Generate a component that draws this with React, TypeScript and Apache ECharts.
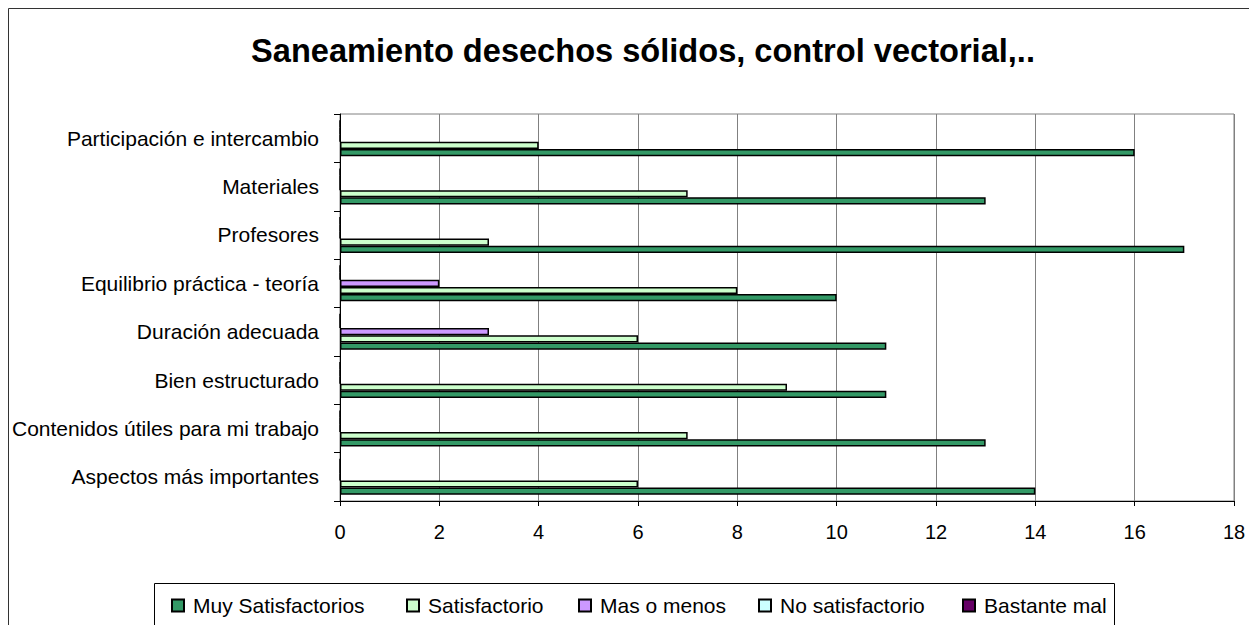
import React, { useEffect, useRef } from "react";
import * as echarts from "echarts";

const titleText = "Saneamiento desechos sólidos, control vectorial,..";
const categories = [
  "Aspectos más importantes",
  "Contenidos útiles para mi trabajo",
  "Bien estructurado",
  "Duración adecuada",
  "Equilibrio práctica - teoría",
  "Profesores",
  "Materiales",
  "Participación e intercambio",
];
const seriesNames = ["Muy Satisfactorios", "Satisfactorio", "Mas o menos", "No satisfactorio", "Bastante mal"];
const muySatisfactorios = [14, 13, 11, 11, 10, 17, 13, 16];
const satisfactorio = [6, 7, 9, 6, 8, 3, 7, 4];
const masOMenos = [0, 0, 0, 3, 2, 0, 0, 0];
const noSatisfactorio = [0, 0, 0, 0, 0, 0, 0, 0];
const bastanteMal = [0, 0, 0, 0, 0, 0, 0, 0];
const seriesColors = ["#339966", "#CCFFCC", "#CC99FF", "#CCFFFF", "#660066"];
const xTicks = { min: 0, max: 18, interval: 2 };

const FONT = '"Liberation Sans", Arial, sans-serif';

export default function App() {
  const ref = useRef<HTMLDivElement>(null);
  useEffect(() => {
    document.documentElement.style.overflow = "hidden";
    document.body.style.margin = "0";
    const chart = echarts.init(ref.current!, undefined, { renderer: "svg" });
    const values = [muySatisfactorios, satisfactorio, masOMenos, noSatisfactorio, bastanteMal];
    const legendLefts = [171, 406, 578, 758, 962];
    // horizontal bars: first series is drawn at the top of each band, so reverse
    const order = [4, 3, 2, 1, 0];
    const option: any = {
      animation: false,
      backgroundColor: "#fff",
      title: {
        text: titleText,
        left: 638,
        top: 29,
        textAlign: "center",
        textStyle: { fontFamily: FONT, fontSize: 32.6, fontWeight: "bold", color: "#000" },
      },
      legend: seriesNames.map((n, i) => ({
        data: [n],
        left: legendLefts[i],
        top: 595,
        padding: 0,
        itemWidth: 12,
        itemHeight: 12,
        icon: "rect",
        textStyle: { fontFamily: FONT, fontSize: 21, color: "#000", padding: [0, 0, 0, 4] },
      })),
      graphic: [
        {
          type: "rect",
          shape: { x: 154.5, y: 583.5, width: 960, height: 100 },
          style: { fill: "none", stroke: "#000", lineWidth: 1 },
        },
        {
          type: "rect",
          shape: { x: 8.5, y: 8.5, width: 1300, height: 700 },
          style: { fill: "none", stroke: "#333", lineWidth: 1 },
        },
      ],
      grid: {
        left: 340,
        right: 15,
        top: 114,
        height: 387,
        show: true,
        borderColor: "#808080",
        borderWidth: 1,
        containLabel: false,
      },
      xAxis: {
        type: "value",
        min: xTicks.min,
        max: xTicks.max,
        interval: xTicks.interval,
        axisLine: { show: true, lineStyle: { color: "#000", width: 1 } },
        axisTick: { show: true, length: 5, lineStyle: { color: "#000" } },
        axisLabel: { fontFamily: FONT, fontSize: 20, color: "#000", margin: 21 },
        splitLine: { show: true, lineStyle: { color: "#808080", width: 1 } },
      },
      yAxis: {
        type: "category",
        data: categories,
        axisLine: { show: true, lineStyle: { color: "#000", width: 1 } },
        axisTick: { show: true, length: 6, lineStyle: { color: "#000" } },
        axisLabel: { fontFamily: FONT, fontSize: 21, color: "#000", margin: 21 },
        splitLine: { show: false },
      },
      series: order.map((i) => ({
        name: seriesNames[i],
        type: "bar",
        data: values[i],
        barWidth: 7.2,
        barGap: "0%",
        itemStyle: { color: seriesColors[i], borderColor: "#000", borderWidth: 1.5 },
      })),
    };
    chart.setOption(option);
    return () => chart.dispose();
  }, []);
  return <div ref={ref} style={{ width: 1249, height: 625 }} />;
}
